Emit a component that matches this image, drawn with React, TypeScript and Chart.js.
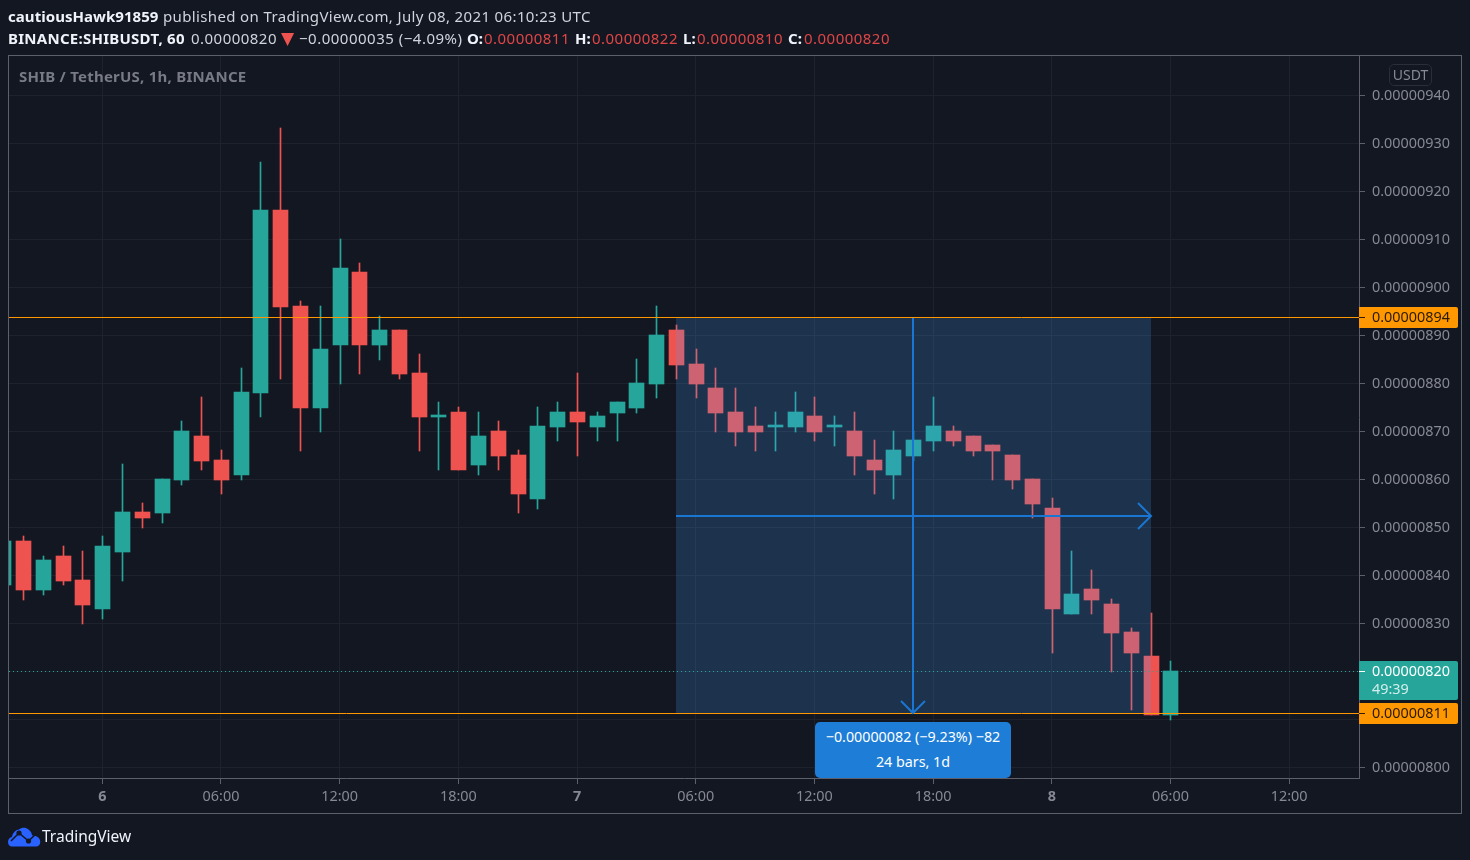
import React, { useEffect, useRef } from "react";
import { Chart, registerables } from "chart.js";

Chart.register(...registerables);

// Prices are in units of 0.00000001 USDT; hours are counted from 6 July 00:00.
const candleHours = [-5,-4,-3,-2,-1,0,1,2,3,4,5,6,7,8,9,10,11,12,13,14,15,16,17,18,19,20,21,22,23,24,25,26,27,28,29,30,31,32,33,34,35,36,37,38,39,40,41,42,43,44,45,46,47,48,49,50,51,52,53,54];
const opens = [838,847,837,844,839,833,845,853,853,860,869,864,861,878,916,896,875,888,903,888,891,882,873,874,863,870,865,856,871,874,871,874,875,880,891,884,879,874,871,871,871,873,871,870,864,861,865,868,870,869,867,865,860,854,832,837,834,828,823,811];
const closes = [847,837,843,839,834,846,853,852,860,870,864,860,878,916,896,875,887,904,888,891,882,873,873,862,869,865,857,871,874,872,873,876,880,890,884,880,874,870,870,871,874,870,871,865,862,866,868,871,868,866,866,860,855,833,836,835,828,824,811,820];
const highs = [847,848,844,846,845,848,863,855,860,872,877,866,883,926,933,897,896,910,905,894,891,886,876,875,874,872,866,875,876,882,874,876,885,896,892,887,883,879,875,874,878,877,873,874,868,870,870,877,871,869,867,865,860,856,845,841,835,829,832,822];
const lows = [838,835,836,838,830,831,839,850,851,859,862,857,860,873,881,866,870,880,882,885,881,866,862,862,861,862,853,854,868,865,868,868,874,877,881,877,870,867,866,866,870,868,867,861,857,856,864,866,867,865,860,858,852,824,832,832,820,812,811,810];

const yTickValues = [800,810,820,830,840,850,860,870,880,890,900,910,920,930,940];
const xTickHours = [0,6,12,18,24,30,36,42,48,54,60];
const xTickLabels = ["6","06:00","12:00","18:00","7","06:00","12:00","18:00","8","06:00","12:00"];
const boldXTicks = ["6","7","8"];

const lastPrice = 820;
const measureTop = 893.75;
const measureBottom = 811.25;
const measureStartHour = 29;
const measureEndHour = 53;
const measureMidHour = 41;
const measureMidPrice = 852.4;

const upperTagLabel = "0.00000894";
const lowerTagLabel = "0.00000811";
const lastTagLabel = "0.00000820";
const countdownLabel = "49:39";

const FONT = '"Noto Sans", "Open Sans", sans-serif';
const UP = "#26a69a";
const DOWN = "#ef5350";
const BG = "#131722";
const GRID = "#1e222d";
const FRAME = "#5d606b";
const TEXT = "#868993";
const ORANGE = "#ff9800";
const BLUE = "#1976d2";
const AXIS_SIZE = 14.4;

const fmt = (v: number) => (v / 1e8).toFixed(8);
const colors = opens.map((o, i) => (closes[i] >= o ? UP : DOWN));

const snapPlugin = {
  id: "snap",
  afterDatasetsUpdate(chart: any) {
    chart.data.datasets.forEach((ds: any, i: number) => {
      const meta = chart.getDatasetMeta(i);
      if (ds.type === "bar") {
        meta.data.forEach((el: any) => {
          el.x = Math.floor(el.x + 0.4) + 0.5;
          const top = Math.floor(Math.min(el.y, el.base));
          let bottom = Math.ceil(Math.max(el.y, el.base));
          if (bottom <= top) bottom = top + 1;
          el.y = top;
          el.base = bottom;
          el.height = bottom - top;
        });
      } else if (ds.snap) {
        meta.data.forEach((el: any) => {
          if (ds.snap === "half") {
            el.y = Math.floor(el.y) + 0.5;
          } else {
            el.x = Math.round(el.x);
            el.y = Math.round(el.y);
          }
        });
      }
    });
  },
  beforeDraw(chart: any) {
    chart.scales.y.getLabelItems().forEach((item: any) => {
      if (!item.shifted) {
        item.options.translation[1] += 1;
        item.shifted = true;
      }
    });
  },
};

const annotationPlugin = {
  id: "annotations",
  afterDatasetsDraw(chart: any) {
    const { ctx, scales } = chart;
    const tipX = Math.round(scales.x.getPixelForValue(measureEndHour));
    const midY = Math.round(scales.y.getPixelForValue(measureMidPrice));
    const midX = Math.round(scales.x.getPixelForValue(measureMidHour));
    const tipY = Math.round(scales.y.getPixelForValue(measureBottom));
    ctx.save();
    ctx.strokeStyle = BLUE;
    ctx.lineWidth = 2;
    ctx.beginPath();
    ctx.moveTo(tipX - 13, midY - 13);
    ctx.lineTo(tipX, midY);
    ctx.lineTo(tipX - 13, midY + 13);
    ctx.moveTo(midX - 12, tipY - 12);
    ctx.lineTo(midX, tipY);
    ctx.lineTo(midX + 12, tipY - 12);
    ctx.stroke();
    ctx.restore();
  },
  afterDraw(chart: any) {
    const { ctx, scales, chartArea } = chart;
    const left = chartArea.right;
    const textX = left + 13;
    const tag = (value: number, h0: number, h1: number, fill: string) => {
      const y = Math.floor(scales.y.getPixelForValue(value));
      ctx.fillStyle = fill;
      ctx.beginPath();
      ctx.roundRect(left, y - h0, 99, h0 + h1, [0, 2, 2, 0]);
      ctx.fill();
      return y;
    };
    ctx.save();
    ctx.font = `${AXIS_SIZE}px ${FONT}`;
    ctx.textBaseline = "middle";
    ctx.textAlign = "left";

    const draw = (y: number, label: string, color: string, tickColor: string) => {
      ctx.fillStyle = tickColor;
      ctx.fillRect(left, y, 6, 1);
      ctx.fillStyle = color;
      ctx.fillText(label, textX, y + 1);
    };

    let y = tag(measureTop, 10, 11, ORANGE);
    draw(y, upperTagLabel, "#2a1b05", "#2a1b05");
    y = tag(lastPrice, 10, 29, UP);
    draw(y, lastTagLabel, "#ffffff", "#ffffff");
    ctx.fillStyle = "#d2eeeb";
    ctx.fillText(countdownLabel, textX, y + 19);
    y = tag(measureBottom, 10, 11, ORANGE);
    draw(y, lowerTagLabel, "#2a1b05", "#2a1b05");

    ctx.strokeStyle = FRAME;
    ctx.lineWidth = 1;
    ctx.strokeRect(8.5, 55.5, 1453, 758);
    ctx.restore();
  },
};

const abs = (left: number, top: number, extra: React.CSSProperties = {}): React.CSSProperties => ({
  position: "absolute",
  left,
  top,
  whiteSpace: "nowrap",
  ...extra,
});

const LINE2_TOP = 28;
function Bold({ x, text, top = LINE2_TOP, ls = 0.26 }: { x: number; text: string; top?: number; ls?: number }) {
  return <div style={abs(x, top, { fontWeight: 700, color: "#f0f3fa", letterSpacing: ls })}>{text}</div>;
}
function Num({ x, text, color = "#e04646" }: { x: number; text: string; color?: string }) {
  return <div style={abs(x, LINE2_TOP, { color, letterSpacing: 0.47 })}>{text}</div>;
}

export default function App() {
  const ref = useRef<HTMLCanvasElement>(null);

  useEffect(() => {
    const xMin = -4.717;
    const xMax = 63.53;
    const yMin = 797.77;
    const yMax = 948.19;
    const chart = new Chart(ref.current as HTMLCanvasElement, {
      type: "bar",
      data: {
        datasets: [
          { type: "line", label: "Upper level", snap: "half", data: [{ x: xMin, y: measureTop }, { x: xMax, y: measureTop }], borderColor: ORANGE, borderWidth: 1, pointRadius: 0, order: 2 },
          { type: "line", label: "Lower level", snap: "half", data: [{ x: xMin, y: measureBottom }, { x: xMax, y: measureBottom }], borderColor: ORANGE, borderWidth: 1, pointRadius: 0, order: 2 },
          { type: "line", label: "Last price", snap: "half", data: [{ x: xMin, y: lastPrice }, { x: xMax, y: lastPrice }], borderColor: UP, borderWidth: 1, borderDash: [1, 3], pointRadius: 0, order: 2 },
          { type: "line", label: "Measure horizontal", snap: "whole", data: [{ x: measureStartHour, y: measureMidPrice }, { x: measureEndHour, y: measureMidPrice }], borderColor: BLUE, borderWidth: 2, pointRadius: 0, order: 3 },
          { type: "line", label: "Measure vertical", snap: "whole", data: [{ x: measureMidHour, y: measureTop }, { x: measureMidHour, y: measureBottom }], borderColor: BLUE, borderWidth: 2, pointRadius: 0, order: 3 },
          { type: "line", label: "Measure area", snap: "whole", data: [{ x: measureStartHour, y: measureTop }, { x: measureEndHour, y: measureTop }], borderWidth: 0, borderColor: "transparent", pointRadius: 0, fill: { value: measureBottom }, backgroundColor: "rgba(69,163,249,0.2)", order: 4 },
          { type: "bar", label: "Body", data: candleHours.map((x, i) => ({ x, y: [opens[i], closes[i]] })), backgroundColor: colors, barThickness: 15, minBarLength: 1, grouped: false, order: 5 },
          { type: "bar", label: "Wick", data: candleHours.map((x, i) => ({ x, y: [lows[i], highs[i]] })), backgroundColor: colors, barThickness: 1, grouped: false, order: 6 },
        ] as any,
      },
      options: {
        animation: false,
        responsive: false,
        devicePixelRatio: 1,
        layout: { padding: { left: 9, top: 56, right: 0, bottom: 0 } },
        plugins: { legend: { display: false }, tooltip: { enabled: false } },
        scales: {
          x: {
            type: "linear",
            min: xMin,
            max: xMax,
            offset: false,
            afterBuildTicks: (s: any) => { s.ticks = xTickHours.map((value) => ({ value })); },
            afterFit: (s: any) => { s.height = 82; },
            grid: { offset: false, color: GRID, tickColor: FRAME, tickLength: 6 },
            border: { color: FRAME },
            ticks: {
              autoSkip: false,
              maxRotation: 0,
              padding: 4,
              color: TEXT,
              font: (c: any) => {
                const label = xTickLabels[xTickHours.indexOf(c.tick?.value)];
                return { family: FONT, size: AXIS_SIZE, weight: boldXTicks.includes(label) ? 700 : 400 };
              },
              callback: (v: any) => xTickLabels[xTickHours.indexOf(v)],
            },
          },
          y: {
            position: "right",
            min: yMin,
            max: yMax,
            afterBuildTicks: (s: any) => { s.ticks = yTickValues.map((value) => ({ value })); },
            afterFit: (s: any) => { s.width = 111; },
            grid: { color: GRID, tickColor: FRAME, tickLength: 6 },
            border: { color: FRAME },
            ticks: {
              autoSkip: false,
              padding: 7,
              color: TEXT,
              font: { family: FONT, size: AXIS_SIZE },
              callback: (v: any) => fmt(v),
            },
          },
        },
      } as any,
      plugins: [snapPlugin, annotationPlugin],
    });
    return () => chart.destroy();
  }, []);

  return (
    <div style={{ position: "fixed", left: 0, top: 0, width: 1470, height: 860, background: BG, fontFamily: FONT, overflow: "hidden", fontSize: 15, lineHeight: "20px", color: "#d1d4dc" }}>
      <canvas ref={ref} width={1470} height={860} style={{ position: "absolute", left: 0, top: 0, width: 1470, height: 860 }} />
      <Bold x={8} top={6} ls={0.05} text="cautiousHawk91859" />
      <div style={abs(163, 6, { letterSpacing: 0.36 })}>published on TradingView.com, July 08, 2021 06:10:23 UTC</div>
      <Bold x={8} text="BINANCE:SHIBUSDT, 60" />
      <Num x={191} text="0.00000820" color="#d1d4dc" />
      <div style={abs(281, LINE2_TOP, { color: DOWN, fontSize: 17, fontFamily: '"DejaVu Sans"' })}>▼</div>
      <div style={abs(299, LINE2_TOP, { letterSpacing: 0.5 })}>−0.00000035 (−4.09%)</div>
      <Bold x={467} ls={0} text="O:" />
      <Num x={484} text="0.00000811" />
      <Bold x={575} ls={0} text="H:" />
      <Num x={592} text="0.00000822" />
      <Bold x={683} ls={0} text="L:" />
      <Num x={697} text="0.00000810" />
      <Bold x={788} ls={0} text="C:" />
      <Num x={804} text="0.00000820" />
      <div style={abs(19, 66, { fontWeight: 700, color: "#787b86", letterSpacing: 0.23 })}>SHIB / TetherUS, 1h, BINANCE</div>
      <div style={abs(1389, 64, { width: 41, height: 20, border: "1px solid #2a2e39", borderRadius: 5, textAlign: "center", color: TEXT, fontSize: 14 })}>USDT</div>
      <div style={abs(815, 722, { width: 196, height: 56, background: "#1e7dd6", borderRadius: 5, color: "#fff", textAlign: "center", fontSize: 14.3 })}>
        <div style={{ marginTop: 5 }}>−0.00000082 (−9.23%) −82</div>
        <div style={{ marginTop: 5 }}>24 bars, 1d</div>
      </div>
      <svg style={abs(8, 827)} width={33} height={20} viewBox="0 0 33 20">
        <path d="M4 19.5 C1.5 19.5 0 17.5 0 15 C0 12 2 10.5 4 10 C4.5 6 7.5 3 11 2.5 C13.5 0 18 0 20.5 2.5 C23 4.5 24 6.5 24 8.5 C27 8 30 9.5 31.5 12 C33.5 15.5 31.5 19.5 28 19.5 Z" fill="#2962ff" />
        <path d="M3 14 L11 6 L20.5 14 L28 7" fill="none" stroke="#131722" strokeWidth="1.6" />
        <circle cx="11" cy="6" r="2.6" fill="#131722" />
        <circle cx="20.5" cy="14" r="2.6" fill="#131722" />
      </svg>
      <div style={abs(42, 826, { color: "#f0f3fa", fontSize: 15.5 })}>TradingView</div>
    </div>
  );
}
